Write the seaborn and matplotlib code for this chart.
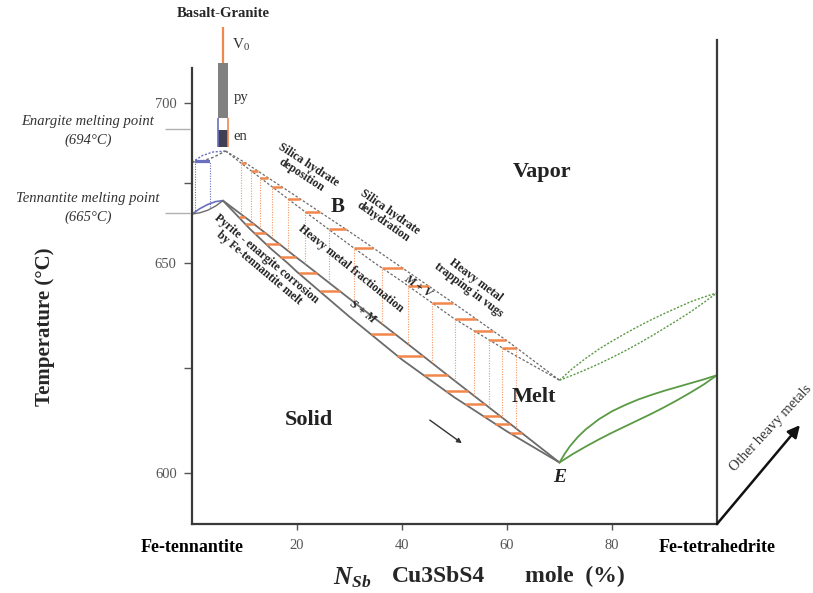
import numpy as np
import matplotlib
matplotlib.use("Agg")
import matplotlib.pyplot as plt
import seaborn as sns

# ---------------- data ----------------
x_ticks = [0, 20, 40, 60, 80, 100]
x_ticklabels = ["Fe-tennantite", "20", "40", "60", "80", "Fe-tetrahedrite"]
y_major = [600, 650, 700]
y_minor = [625, 675]

# S + M band (solid + melt)
sm_upper_x = [5.9, 11, 20, 21.3, 30, 40, 50, 60, 70]
sm_upper_t = [669.5, 663.2, 651.6, 650.0, 641.5, 631.8, 622.0, 612.3, 602.5]
sm_lower_x = [5.9, 11, 15, 18.2, 20, 30, 40, 50, 60, 70]
sm_lower_t = [669.5, 660.7, 654.5, 650.0, 647.9, 637.2, 627.0, 618.0, 609.9, 602.5]

# M + V band (melt + vapor)
mv_upper_x = [6.4, 10, 20, 30, 38.7, 50, 60, 70]
mv_upper_t = [685.0, 681.5, 670.7, 659.8, 650.0, 640.3, 631.5, 622.1]
mv_lower_x = [6.4, 10, 20, 30, 34.8, 40, 50, 60, 70]
mv_lower_t = [685.0, 680.4, 667.9, 655.7, 650.0, 645.6, 636.7, 629.1, 622.1]

# tie lines
sm_tie_t = [664.4, 662.2, 659.4, 655.9, 651.9, 647.6, 643.3, 633.1, 627.9,
            623.3, 619.5, 616.4, 613.6, 611.7, 609.5]
sm_tie_x0 = [8.9, 10.1, 11.8, 14.1, 16.8, 20.3, 24.3, 34.0, 39.1,
             44.1, 48.3, 52.0, 55.4, 57.8, 60.5]
sm_tie_x1 = [10.0, 11.8, 14.0, 16.7, 19.8, 23.8, 28.2, 38.7, 44.0,
             48.7, 52.6, 55.8, 58.7, 60.6, 62.9]

mv_tie_t = [681.25, 678.75, 676.6, 673.75, 670.0, 665.9, 660.6, 654.7, 648.8,
            644.5, 640.5, 636.7, 633.8, 631.7, 629.8]
mv_tie_x0 = [9.3, 11.3, 13.0, 15.3, 18.3, 21.6, 26.0, 30.8, 36.2,
             41.2, 45.7, 50.0, 53.8, 56.6, 59.1]
mv_tie_x1 = [10.2, 12.5, 14.5, 17.2, 20.6, 24.4, 29.3, 34.5, 40.1,
             45.1, 49.8, 54.1, 57.4, 59.8, 61.8]

# vertical dotted connectors
vert_x = [9.3, 11.3, 13.0, 15.3, 18.3, 21.6, 26.0, 30.8, 36.2,
          41.2, 45.7, 50.0, 53.8, 56.6, 59.1, 61.8]
vert_lo = [665.3, 662.8, 660.6, 657.7, 653.8, 649.7, 645.4, 640.7, 635.5,
           630.6, 626.2, 622.0, 618.3, 615.6, 613.2, 610.5]
vert_hi = [681.25, 678.75, 676.6, 673.75, 670.0, 665.9, 660.6, 654.7, 648.8,
           644.5, 640.5, 636.7, 633.8, 631.7, 629.8, 629.8]

# green lenses toward Fe-tetrahedrite
g_solid_up_x = [70, 71, 72, 73.5, 75, 77.5, 80, 82.5, 85, 87.5, 90, 92.5, 95, 97.5, 100]
g_solid_up_t = [602.5, 604.6, 606.4, 608.6, 610.4, 612.8, 614.7, 616.2, 617.5,
                618.6, 619.6, 620.5, 621.4, 622.3, 623.3]
g_solid_lo_x = [70, 72.5, 75, 77.5, 80, 82.5, 85, 87.5, 90, 92.5, 95, 97.5, 100]
g_solid_lo_t = [602.5, 604.5, 606.3, 608.0, 609.6, 611.1, 612.6, 614.1, 615.7,
                617.4, 619.2, 621.1, 623.3]
g_dot_up_x = [70, 72.5, 75, 77.5, 80, 82.5, 85, 87.5, 90, 92.5, 95, 97.5, 100]
g_dot_up_t = [622.1, 624.9, 627.3, 629.5, 631.4, 633.2, 634.9, 636.5, 638.0,
              639.4, 640.8, 641.9, 642.9]
g_dot_lo_x = [70, 72.5, 75, 77.5, 80, 82.5, 85, 87.5, 90, 92.5, 95, 97.5, 100]
g_dot_lo_t = [622.1, 623.3, 624.6, 626.0, 627.5, 629.1, 630.8, 632.6, 634.5,
              636.4, 638.4, 640.6, 642.9]

# blue lenses at Fe-tennantite end
b_low_up_x = [0, 1.5, 3, 4.5, 5.9]
b_low_up_t = [665.3, 667.0, 668.3, 669.2, 669.5]
b_low_lo_x = [0, 1.5, 3, 4.5, 5.9]
b_low_lo_t = [665.3, 665.7, 666.5, 667.8, 669.5]
b_top_up_x = [0, 2, 4, 6.4]
b_top_up_t = [681.5, 683.6, 684.7, 685.0]
b_top_lo_x = [0, 2, 4, 6.4]
b_top_lo_t = [681.5, 681.9, 683.0, 685.0]
b_vert_x = [0.6, 3.4]
b_vert_lo = [665.6, 667.6]
b_vert_hi = [681.7, 681.9]

# Basalt-Granite column
col_x = [5.0, 6.9]
py_t = [695.3, 712.5]
gap_t = [691.6, 695.3]
en_t = [686.3, 691.6]
v0_t = [712.5, 723.8]
v0_x = 5.95

melt_pts = [691.9, 665.5]   # marker lines for melting points

# ---------------- style ----------------
sns.set_style("ticks")
plt.rcParams['font.family'] = ['Liberation Serif', 'DejaVu Serif']

GREY = "#6b6b6b"
ORANGE = "#f2874c"
GREEN = "#5a9a45"
BLUE = "#6a6fc0"

fig = plt.figure(figsize=(8.13, 5.93), dpi=100)
ax = fig.add_axes([192 / 813, 1 - 524 / 593, 525 / 813, 524 / 593])


def fwd(t):
    t = np.asarray(t, dtype=float)
    return np.where(t < 650, (t - 600) * 4.2, 210 + (t - 650) * 3.2)


def inv(u):
    u = np.asarray(u, dtype=float)
    return np.where(u < 210, 600 + u / 4.2, 650 + (u - 210) / 3.2)


ax.set_yscale('function', functions=(fwd, inv))
ax.set_xlim(0, 100)
ax.set_ylim(587.86, 732.2)


def line(x, y, **kw):
    sns.lineplot(x=x, y=y, sort=False, estimator=None, legend=False, ax=ax, **kw)


# S+M band (solid lines)
line(sm_upper_x, sm_upper_t, color=GREY, lw=1.3)
line(sm_lower_x, sm_lower_t, color=GREY, lw=1.3)
# M+V band (dotted lines)
line(mv_upper_x, mv_upper_t, color=GREY, lw=0.9, linestyle=(0, (2, 1.5)))
line(mv_lower_x, mv_lower_t, color=GREY, lw=0.9, linestyle=(0, (2, 1.5)))

# vertical orange dotted connectors
ax.vlines(vert_x, vert_lo, vert_hi, color=ORANGE, lw=0.8, linestyles=(0, (1, 1.3)), alpha=0.85)
# tie lines
ax.hlines(sm_tie_t, sm_tie_x0, sm_tie_x1, color=ORANGE, lw=1.8)
ax.hlines(mv_tie_t, mv_tie_x0, mv_tie_x1, color=ORANGE, lw=1.8)

# green lenses
line(g_solid_up_x, g_solid_up_t, color=GREEN, lw=1.3)
line(g_solid_lo_x, g_solid_lo_t, color=GREEN, lw=1.3)
line(g_dot_up_x, g_dot_up_t, color=GREEN, lw=1.0, linestyle=(0, (1.5, 1.2)))
line(g_dot_lo_x, g_dot_lo_t, color=GREEN, lw=1.0, linestyle=(0, (1.5, 1.2)))

# blue lenses
line(b_low_up_x, b_low_up_t, color=BLUE, lw=1.2)
line(b_low_lo_x, b_low_lo_t, color=GREY, lw=1.0)
line(b_top_up_x, b_top_up_t, color=BLUE, lw=1.0, linestyle=(0, (1.5, 1.2)))
line(b_top_lo_x, b_top_lo_t, color=GREY, lw=1.0, linestyle=(0, (2, 1.5)))
ax.hlines(b_vert_hi, b_vert_x[0], b_vert_x[1], color=BLUE, lw=1.6)
ax.vlines(b_vert_x, b_vert_lo, b_vert_hi, color=BLUE, lw=0.8, linestyles=(0, (1, 1.3)))

# Basalt-Granite column
ax.fill_between(col_x, py_t[0], py_t[1], color="#808080", lw=0)
ax.fill_between(col_x, gap_t[0], gap_t[1], color="white", lw=0)
ax.fill_between(col_x, en_t[0], en_t[1], color="#3f4153", lw=0)
ax.vlines([col_x[0]], en_t[0], gap_t[1], color=BLUE, lw=1.2)
ax.vlines([col_x[1]], en_t[0], gap_t[1], color=ORANGE, lw=1.2)
ax.vlines([v0_x], v0_t[0], v0_t[1], color=ORANGE, lw=1.6, clip_on=False)

# melting point marker lines (outside axes)
ax.hlines(melt_pts, -5.1, -0.4, color="#b0b0b0", lw=1.0, clip_on=False)

# ---------------- axes / spines ----------------
ax.spines["top"].set_visible(False)
for s in ["left", "bottom", "right"]:
    ax.spines[s].set_linewidth(1.6)
    ax.spines[s].set_color("#3a3a3a")
ax.spines["left"].set_bounds(587.86, 710.9)
ax.spines["right"].set_bounds(587.86, 719.7)

ax.set_yticks(y_major)
ax.set_yticklabels([str(v) for v in y_major])
ax.set_yticks(y_minor, minor=True)
ax.tick_params(axis='y', which='both', direction='out', length=6, width=1.0,
               color="#555555", labelsize=10.5, labelcolor="#555555", pad=5)
ax.set_xticks(x_ticks)
ax.set_xticklabels(x_ticklabels)
ax.tick_params(axis='x', direction='out', length=4, width=1.0, color="#555555",
               labelsize=10.5, labelcolor="#555555", pad=7)
for i, lab in enumerate(ax.get_xticklabels()):
    if i in (0, len(x_ticks) - 1):
        lab.set_fontweight('bold')
        lab.set_color('black')
        lab.set_fontsize(13)
ax.xaxis.get_major_ticks()[0].tick1line.set_visible(False)
ax.xaxis.get_major_ticks()[-1].tick1line.set_visible(False)
ax.grid(False)

# ---------------- texts ----------------
ax.text(5.9, 728.0, "Basalt-Granite", ha='center', va='center', fontsize=10.5,
        fontweight='bold', clip_on=False)
ax.text(7.7, 718.0, r"$\mathregular{V_0}$", ha='left', va='center', fontsize=11, color="#333333")
ax.text(7.9, 701.6, "py", ha='left', va='center', fontsize=10.5, color="#333333")
ax.text(7.9, 689.4, "en", ha='left', va='center', fontsize=10.5, color="#333333")

for tx, ty, s in [(-19.8, 694.1, "Enargite melting point"), (-19.8, 688.4, "(694°C)"),
                  (-19.8, 670.3, "Tennantite melting point"), (-19.8, 664.4, "(665°C)")]:
    ax.text(tx, ty, s, ha='center', va='center', fontsize=10.5, style='italic',
            color="#333333", clip_on=False)

big = dict(ha='center', va='center', fontweight='bold', color="#222222")
ax.text(66.7, 678.4, "Vapor", fontsize=16, **big)
ax.text(65.2, 618.1, "Melt", fontsize=16, **big)
ax.text(22.3, 612.6, "Solid", fontsize=16, **big)
ax.text(27.8, 667.5, "B", fontsize=15, **big)
ax.text(70.0, 599.0, "E", fontsize=14, style='italic', **big)

small = dict(ha='center', va='center', fontweight='bold', fontsize=8.5,
             rotation_mode='anchor', linespacing=1.0, color="#222222")
ax.text(21.5, 679.0, "Silica hydrate\ndeposition", rotation=-33, **small)
ax.text(37.1, 664.4, "Silica hydrate\ndehydration", rotation=-35, **small)
ax.text(53.3, 644.8, "Heavy metal\ntrapping in vugs", rotation=-37, **small)
ax.text(30.3, 648.6, "Heavy metal fractionation", rotation=-39, **small)
ax.text(13.5, 650.0, "Pyrite - enargite corrosion\nby Fe-tennantite melt", rotation=-40, **small)
ax.text(32.4, 638.3, "S + M", rotation=-38, style='italic', **small)
ax.text(43.0, 644.5, "M + V", rotation=-34, style='italic', **small)

# arrows
ax.annotate("", xy=(51.4, 607.1), xytext=(45.3, 612.6),
            arrowprops=dict(arrowstyle='-|>', color="#333333", lw=1.0,
                            mutation_scale=7, shrinkA=0, shrinkB=0))
ax.annotate("", xy=(115.8, 611.4), xytext=(100, 587.86), annotation_clip=False,
            arrowprops=dict(arrowstyle='-|>', color="#111111", lw=1.8,
                            mutation_scale=18, shrinkA=0, shrinkB=0))
ax.text(110.3, 610.7, "Other heavy metals", rotation=47, rotation_mode='anchor',
        ha='center', va='center', fontsize=10.5, color="#333333", clip_on=False)

# axis titles
fig.text(45 / 813, 1 - 327 / 593, "Temperature (°C)", rotation=90, ha='center',
         va='center', fontsize=15, fontweight='bold')
fig.text(352 / 813, 1 - 578 / 593, r"$\mathregular{N_{Sb}}$", ha='center', va='center',
         fontsize=18, fontweight='bold', style='italic')
fig.text(438 / 813, 1 - 576 / 593, "Cu3SbS4", ha='center', va='center',
         fontsize=17, fontweight='bold')
fig.text(575 / 813, 1 - 576 / 593, "mole  (%)", ha='center', va='center',
         fontsize=17, fontweight='bold')

fig.savefig("out.png", dpi=100)
